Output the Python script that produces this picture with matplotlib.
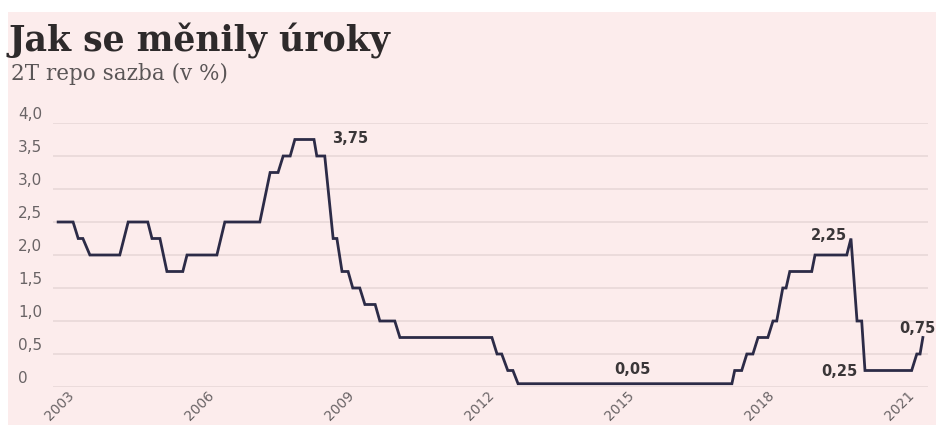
import matplotlib
matplotlib.use("Agg")
import matplotlib.pyplot as plt
from matplotlib.patches import Rectangle
import matplotlib.transforms as mtransforms

# ===== data =====
# vertices of the line: decimal year, rate in %
YEARS = [2002.81, 2003.13, 2003.24, 2003.34, 2003.49, 2004.13, 2004.31, 2004.73,
         2004.82, 2004.99, 2005.14, 2005.48, 2005.57, 2006.21, 2006.38, 2007.13,
         2007.35, 2007.52, 2007.63, 2007.78, 2007.88, 2008.29, 2008.35, 2008.52,
         2008.70, 2008.78, 2008.89, 2009.02, 2009.12, 2009.27, 2009.38, 2009.60,
         2009.70, 2010.02, 2010.13, 2012.10, 2012.21, 2012.31, 2012.44, 2012.55,
         2012.66, 2017.24, 2017.30, 2017.45, 2017.56, 2017.69, 2017.80, 2018.01,
         2018.12, 2018.20, 2018.33, 2018.40, 2018.48, 2018.95, 2019.02, 2019.70,
         2019.79, 2019.92, 2020.02, 2020.09, 2021.09, 2021.20, 2021.27, 2021.33]
RATES = [2.5, 2.5, 2.25, 2.25, 2.0, 2.0, 2.5, 2.5,
         2.25, 2.25, 1.75, 1.75, 2.0, 2.0, 2.5, 2.5,
         3.25, 3.25, 3.5, 3.5, 3.75, 3.75, 3.5, 3.5,
         2.25, 2.25, 1.75, 1.75, 1.5, 1.5, 1.25, 1.25,
         1.0, 1.0, 0.75, 0.75, 0.5, 0.5, 0.25, 0.25,
         0.05, 0.05, 0.25, 0.25, 0.5, 0.5, 0.75, 0.75,
         1.0, 1.0, 1.5, 1.5, 1.75, 1.75, 2.0, 2.0,
         2.25, 1.0, 1.0, 0.25, 0.25, 0.5, 0.5, 0.75]

Y_TICKS = [0, 0.5, 1.0, 1.5, 2.0, 2.5, 3.0, 3.5, 4.0]
Y_LABELS = ["0", "0,5", "1,0", "1,5", "2,0", "2,5", "3,0", "3,5", "4,0"]
X_TICKS = [2003, 2006, 2009, 2012, 2015, 2018, 2021]

# annotated values
NOTE_TEXTS = ["3,75", "2,25", "0,05", "0,25", "0,75"]
NOTE_X = [2008.67, 2019.70, 2014.73, 2019.94, 2020.83]
NOTE_Y = [3.77, 2.30, 0.26, 0.23, 0.89]
NOTE_HA = ["left", "right", "left", "right", "left"]

BG = "#fcecec"
LINE = "#2c2b47"
GRID = "#e8d8d8"
TXT = "#6a6466"

fig = plt.figure(figsize=(9.36, 4.25), dpi=100)
fig.patch.set_facecolor("white")
fig.add_artist(Rectangle((8 / 936, 0), 1, 1 - 12 / 425, transform=fig.transFigure,
                         facecolor=BG, edgecolor="none", zorder=0))

fig.text(9 / 936, 1 - 41 / 425, "Jak se měnily úroky", fontsize=25,
         fontweight="bold", family="DejaVu Serif", color="#2e2a2b", va="center")
fig.text(11 / 936, 1 - 74 / 425, "2T repo sazba (v %)", fontsize=15.5,
         family="DejaVu Serif", color="#5a5556", va="center")

ax = fig.add_axes([53 / 936, 38 / 425, 875 / 936, 264 / 425])
ax.set_facecolor("none")
ax.set_xlim(2002.70, 2021.44)
ax.set_ylim(0, 4)
for s in ax.spines.values():
    s.set_visible(False)

for t in Y_TICKS:
    ax.axhline(t, color=GRID, lw=1.2, zorder=1)

ax.plot(YEARS, RATES, color=LINE, lw=2.0, zorder=3, clip_on=False,
        solid_joinstyle="miter")

# y labels sit above their grid lines, left aligned
ax.set_yticks([])
off = mtransforms.offset_copy(ax.get_yaxis_transform(), fig=fig, x=0, y=1, units="dots")
for t, lab in zip(Y_TICKS, Y_LABELS):
    ax.text(-35 / 875, t, lab, transform=off, ha="left", va="bottom",
            fontsize=11, color=TXT)

ax.set_xticks(X_TICKS)
ax.set_xticklabels([str(y) for y in X_TICKS], rotation=45, ha="right",
                   rotation_mode="anchor", fontsize=10, color=TXT)
ax.tick_params(axis="x", length=0, pad=1)

for x, y, s, ha in zip(NOTE_X, NOTE_Y, NOTE_TEXTS, NOTE_HA):
    ax.text(x, y, s, fontsize=10.5, fontweight="bold", color="#3a3638",
            ha=ha, va="center", clip_on=False)

fig.savefig("out.png", dpi=100, facecolor=fig.get_facecolor())
